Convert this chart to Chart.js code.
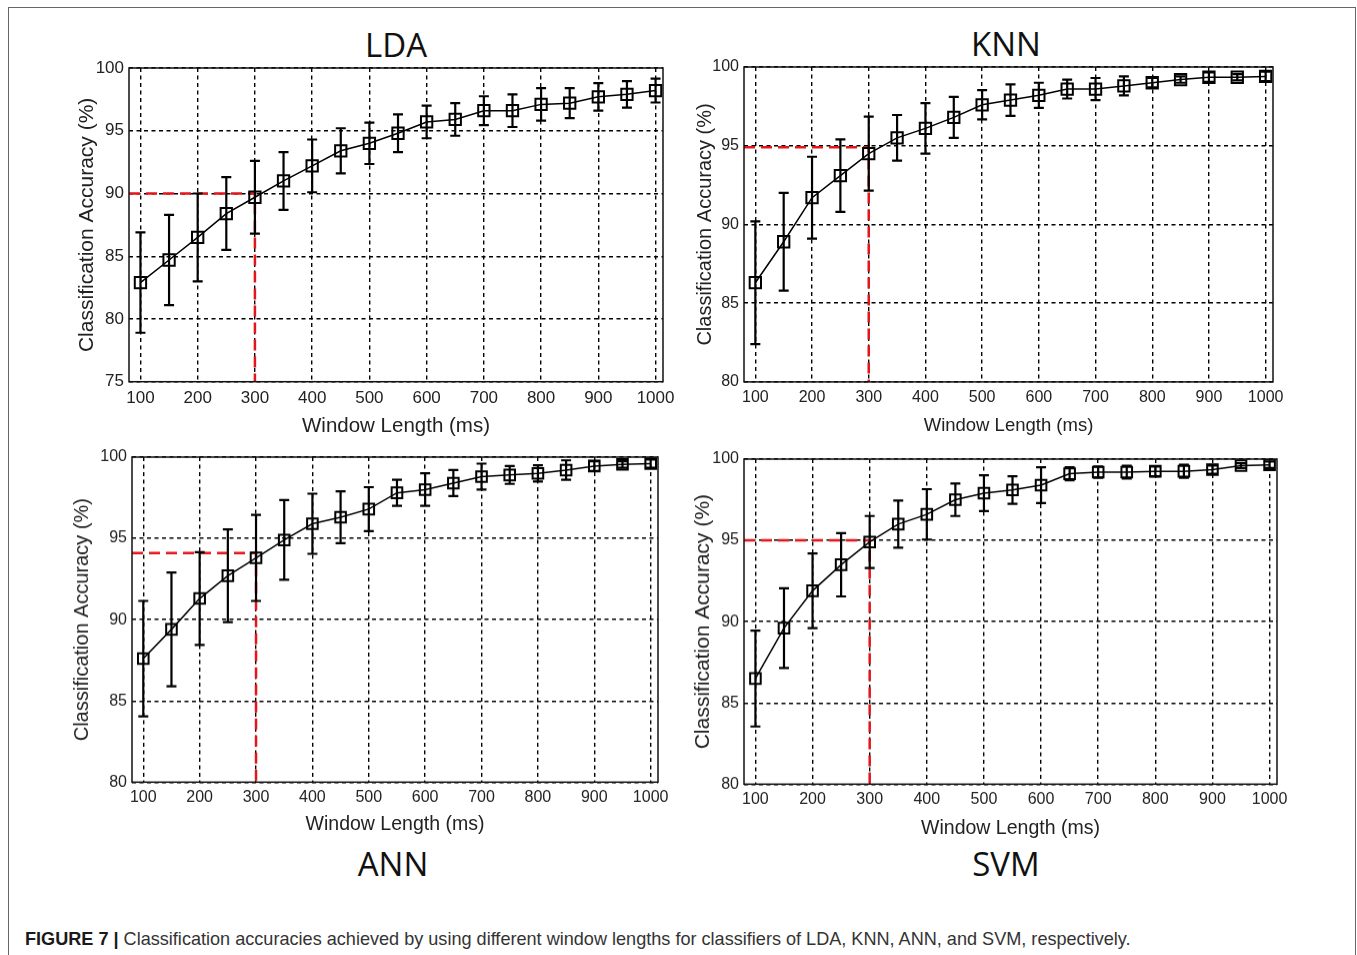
<!DOCTYPE html>
<html>
<head>
<meta charset="utf-8">
<script src="https://cdn.jsdelivr.net/npm/chart.js@4.4.1/dist/chart.umd.min.js"></script>
<style>
    body { margin: 0; background: #fff; width: 1357px; height: 955px; position: relative; overflow: hidden; font-family: "Liberation Sans", Arial, sans-serif; }
    .moldura { position: absolute; left: 8px; top: 7px; width: 1346px; height: 970px; border: 1px solid #666; }
    .painel { position: absolute; }
    .titulo { position: absolute; font-family: "Open Sans", sans-serif; font-size: 33px; color: #111; transform: translate(-50%, -50%); line-height: 1; }
    .legenda { position: absolute; left: 25px; top: 929px; font-size: 18.1px; color: #333; white-space: nowrap; }
    .legenda b { color: #1a1a1a; }
</style>
</head>
<body>
<div class="moldura"></div>
<div class="titulo" style="left:396px; top:44px;">LDA</div>
<div class="titulo" style="left:1006px; top:43px;">KNN</div>
<div class="titulo" style="left:393px; top:863px;">ANN</div>
<div class="titulo" style="left:1006px; top:863px;">SVM</div>
<div class="legenda"><b>FIGURE 7 |</b> Classification accuracies achieved by using different window lengths for classifiers of LDA, KNN, ANN, and SVM, respectively.</div>

<script>
// Dados
const janelas = [100, 150, 200, 250, 300, 350, 400, 450, 500, 550, 600, 650, 700, 750, 800, 850, 900, 950, 1000];
const ticksX = [100, 200, 300, 400, 500, 600, 700, 800, 900, 1000];
const ticksYLda = [75, 80, 85, 90, 95, 100];
const ticksY = [80, 85, 90, 95, 100];

const ldaMedia = [82.9, 84.7, 86.5, 88.4, 89.7, 91.0, 92.2, 93.4, 94.0, 94.8, 95.7, 95.9, 96.6, 96.6, 97.1, 97.2, 97.7, 97.9, 98.2];
const ldaDesvio = [4.0, 3.6, 3.5, 2.9, 2.9, 2.3, 2.1, 1.8, 1.65, 1.5, 1.3, 1.3, 1.15, 1.3, 1.3, 1.2, 1.1, 1.05, 0.95];

const knnMedia = [86.3, 88.9, 91.7, 93.1, 94.5, 95.5, 96.1, 96.8, 97.6, 97.9, 98.2, 98.6, 98.6, 98.8, 99.0, 99.2, 99.35, 99.35, 99.4];
const knnDesvio = [3.9, 3.1, 2.6, 2.3, 2.35, 1.45, 1.6, 1.3, 0.93, 1.0, 0.8, 0.6, 0.7, 0.6, 0.3, 0.2, 0.3, 0.2, 0.3];

const annMedia = [87.6, 89.4, 91.3, 92.7, 93.8, 94.9, 95.9, 96.3, 96.8, 97.8, 98.0, 98.4, 98.8, 98.9, 99.0, 99.2, 99.45, 99.55, 99.6];
const annDesvio = [3.55, 3.5, 2.85, 2.85, 2.65, 2.45, 1.85, 1.6, 1.35, 0.8, 1.0, 0.8, 0.8, 0.55, 0.5, 0.6, 0.3, 0.2, 0.25];

const svmMedia = [86.5, 89.6, 91.9, 93.5, 94.9, 96.0, 96.6, 97.5, 97.9, 98.1, 98.4, 99.1, 99.2, 99.2, 99.25, 99.25, 99.35, 99.6, 99.65];
const svmDesvio = [2.95, 2.45, 2.3, 1.95, 1.6, 1.45, 1.55, 1.0, 1.1, 0.85, 1.1, 0.4, 0.35, 0.4, 0.3, 0.4, 0.25, 0.15, 0.2];

// linhas vermelhas de referência
const janelaEscolhida = 300;
const ldaLimiar = 90;
const knnLimiar = 94.9;
const annLimiar = 94.1;
const svmLimiar = 95;

const X_MIN = 80, X_MAX = 1013;
const Y_W = 75, PAD_T = 20, PAD_R = 30;
const fonte = '"Liberation Sans", Arial, sans-serif';

// Barras de erro desenhadas com as escalas do gráfico
const barrasErro = {
    id: 'barrasErro',
    afterDatasetsDraw(chart) {
        const ds = chart.data.datasets.find(d => d.desvios);
        if (!ds) return;
        const { ctx, chartArea } = chart;
        const x = chart.scales.x, y = chart.scales.y;
        ctx.save();
        ctx.beginPath();
        ctx.rect(chartArea.left, chartArea.top, chartArea.width, chartArea.height);
        ctx.clip();
        ctx.strokeStyle = '#000';
        ctx.lineWidth = 2.2;
        ds.data.forEach((p, i) => {
            const px = x.getPixelForValue(p.x);
            const y1 = y.getPixelForValue(p.y + ds.desvios[i]);
            const y2 = y.getPixelForValue(p.y - ds.desvios[i]);
            ctx.beginPath();
            ctx.moveTo(px, y1); ctx.lineTo(px, y2);
            ctx.moveTo(px - 5, y1); ctx.lineTo(px + 5, y1);
            ctx.moveTo(px - 5, y2); ctx.lineTo(px + 5, y2);
            ctx.stroke();
        });
        ctx.restore();
    }
};

// Caixa em volta da área do gráfico (estilo MATLAB)
const caixa = {
    id: 'caixa',
    afterDraw(chart) {
        const { ctx, chartArea: a } = chart;
        ctx.save();
        ctx.strokeStyle = '#111';
        ctx.lineWidth = 1.5;
        ctx.strokeRect(a.left, a.top, a.width, a.height);
        ctx.restore();
    }
};

function criarGrafico(cfg) {
    const xH = cfg.xTitleOff + cfg.xTitle * 0.6;
    const W = cfg.plotW + Y_W + PAD_R;
    const H = cfg.plotH + PAD_T + xH;

    const div = document.createElement('div');
    div.className = 'painel';
    div.style.left = (cfg.plotLeft - Y_W) + 'px';
    div.style.top = (cfg.plotTop - PAD_T) + 'px';
    const canvas = document.createElement('canvas');
    canvas.width = W; canvas.height = H;
    canvas.style.width = W + 'px'; canvas.style.height = H + 'px';
    div.appendChild(canvas);
    document.body.appendChild(div);

    const pontos = janelas.map((w, i) => ({ x: w, y: cfg.media[i] }));
    const yMin = cfg.ticksY[0];

    new Chart(canvas.getContext('2d'), {
        type: 'line',
        data: {
            datasets: [
                {
                    data: pontos,
                    desvios: cfg.desvio,
                    borderColor: '#000',
                    borderWidth: 1.5,
                    pointStyle: 'rect',
                    pointRadius: cfg.marcador,
                    pointBorderWidth: 2,
                    pointBorderColor: '#000',
                    pointBackgroundColor: 'rgba(0,0,0,0)',
                    tension: 0,
                    order: 1
                },
                {
                    data: [{ x: X_MIN, y: cfg.limiar }, { x: janelaEscolhida, y: cfg.limiar }, { x: janelaEscolhida, y: yMin }],
                    borderColor: '#e3161c',
                    borderDash: [11, 6],
                    borderWidth: 2.5,
                    pointRadius: 0,
                    tension: 0,
                    order: 2
                }
            ]
        },
        options: {
            responsive: false,
            animation: false,
            layout: { padding: { top: PAD_T, right: PAD_R, left: 0, bottom: 0 } },
            plugins: {
                legend: { display: false },
                tooltip: { enabled: false }
            },
            scales: {
                x: {
                    type: 'linear',
                    min: X_MIN,
                    max: X_MAX,
                    afterBuildTicks: s => { s.ticks = ticksX.map(v => ({ value: v })); },
                    afterFit: s => { s.height = xH; },
                    grid: { color: '#000', lineWidth: 1.4, drawTicks: false },
                    border: { display: false, dash: [4, 3.5] },
                    ticks: { padding: 6, color: '#222', maxRotation: 0, autoSkip: false, callback: v => String(v), font: { size: cfg.tick, family: fonte } },
                    title: { display: true, text: 'Window Length (ms)', color: '#222', padding: { top: 0, bottom: 0 }, font: { size: cfg.xTitle, family: fonte } }
                },
                y: {
                    min: yMin,
                    max: 100,
                    afterBuildTicks: s => { s.ticks = cfg.ticksY.map(v => ({ value: v })); },
                    afterFit: s => { s.width = Y_W; },
                    grid: { color: '#000', lineWidth: 1.4, drawTicks: false },
                    border: { display: false, dash: [4, 3.5] },
                    ticks: { padding: 5, color: '#222', callback: v => String(v), font: { size: cfg.tick, family: fonte } },
                    title: {
                        display: true, text: 'Classification Accuracy (%)', color: '#222',
                        padding: { top: Y_W - cfg.yTitleOff - cfg.yTitle * 0.6, bottom: 0 },
                        font: { size: cfg.yTitle, family: fonte }
                    }
                }
            }
        },
        plugins: [barrasErro, caixa]
    });
}

criarGrafico({ media: ldaMedia, desvio: ldaDesvio, limiar: ldaLimiar, ticksY: ticksYLda,
    plotLeft: 129, plotTop: 68, plotW: 534, plotH: 314, yTitleOff: 42, xTitleOff: 45,
    tick: 17, yTitle: 21, xTitle: 20.5, marcador: 8 });
criarGrafico({ media: knnMedia, desvio: knnDesvio, limiar: knnLimiar, ticksY: ticksY,
    plotLeft: 744, plotTop: 67, plotW: 529, plotH: 315, yTitleOff: 39, xTitleOff: 44,
    tick: 16, yTitle: 20, xTitle: 18.5, marcador: 8 });
criarGrafico({ media: annMedia, desvio: annDesvio, limiar: annLimiar, ticksY: ticksY,
    plotLeft: 132, plotTop: 457, plotW: 526, plotH: 325, yTitleOff: 50, xTitleOff: 42,
    tick: 16, yTitle: 20, xTitle: 19.5, marcador: 7.5 });
criarGrafico({ media: svmMedia, desvio: svmDesvio, limiar: svmLimiar, ticksY: ticksY,
    plotLeft: 744, plotTop: 459, plotW: 533, plotH: 325, yTitleOff: 41, xTitleOff: 44,
    tick: 16, yTitle: 21, xTitle: 19.5, marcador: 7.5 });
</script>
</body>
</html>
